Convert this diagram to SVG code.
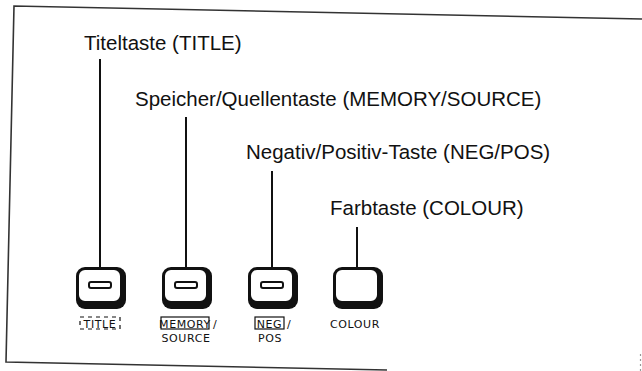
<svg xmlns="http://www.w3.org/2000/svg" width="642" height="371" viewBox="0 0 642 371">
<style>
.lbl{font-family:"Liberation Sans",Arial,sans-serif;font-size:20.5px;fill:#111}
.key{font-family:"DejaVu Sans","Liberation Sans",sans-serif;font-size:11px;fill:#111;letter-spacing:0.6px}
.ln{stroke:#111;stroke-width:2;fill:none}
.body{fill:#111}
.face{fill:#fff;stroke:#111;stroke-width:2}
.slot{fill:#fff;stroke:#111;stroke-width:2}
.frame{stroke:#333;stroke-width:1.6;fill:none}
.box{fill:none;stroke:#111;stroke-width:1.2}
</style>
<defs>
<g id="keycap">
<rect class="body" x="-24" y="-20" width="50" height="42" rx="9"/>
<rect class="face" x="-22" y="-18" width="43" height="33" rx="7"/>
</g>
</defs>
<rect width="642" height="371" fill="#fff"/>
<g id="frame">
<polyline class="frame" points="642,19 14,6 6,362 387,370"/>
<line x1="640.5" y1="354" x2="640.5" y2="371" stroke="#999" stroke-width="1.2" stroke-dasharray="2,3"/>
</g>
<g id="connectors">
<line class="ln" x1="100" y1="59" x2="100" y2="283"/>
<line class="ln" x1="186" y1="117" x2="186" y2="283"/>
<line class="ln" x1="272" y1="171" x2="272" y2="283"/>
<line class="ln" x1="357" y1="227" x2="357" y2="291"/>
</g>
<g id="title-label"><text class="lbl" x="84" y="50">Titeltaste (TITLE)</text></g>
<g id="memory-label"><text class="lbl" x="135" y="106">Speicher/Quellentaste (MEMORY/SOURCE)</text></g>
<g id="neg-label"><text class="lbl" x="246" y="159">Negativ/Positiv-Taste (NEG/POS)</text></g>
<g id="colour-label"><text class="lbl" x="330" y="215">Farbtaste (COLOUR)</text></g>
<g id="title-key">
<use href="#keycap" x="100" y="287"/>
<rect class="slot" x="89" y="282" width="22" height="6" rx="2"/>
<rect class="box" x="80" y="317" width="40" height="12" stroke-dasharray="4,4"/>
<text class="key" x="100" y="327.5" text-anchor="middle">TITLE</text>
</g>
<g id="memory-key">
<use href="#keycap" x="186" y="287"/>
<rect class="slot" x="175" y="282" width="22" height="6" rx="2"/>
<rect class="box" x="161" y="317" width="48" height="12"/>
<text class="key" x="185" y="327.5" text-anchor="middle">MEMORY</text>
<text class="key" x="213" y="327.5">/</text>
<text class="key" x="186" y="342" text-anchor="middle">SOURCE</text>
</g>
<g id="neg-key">
<use href="#keycap" x="272" y="287"/>
<rect class="slot" x="261" y="282" width="22" height="6" rx="2"/>
<rect class="box" x="255" y="317" width="29" height="12"/>
<text class="key" x="269.5" y="327.5" text-anchor="middle">NEG</text>
<text class="key" x="287" y="327.5">/</text>
<text class="key" x="270" y="342" text-anchor="middle">POS</text>
</g>
<g id="colour-key">
<use href="#keycap" x="357" y="287"/>
<text class="key" x="355" y="327.5" text-anchor="middle">COLOUR</text>
</g>
</svg>
